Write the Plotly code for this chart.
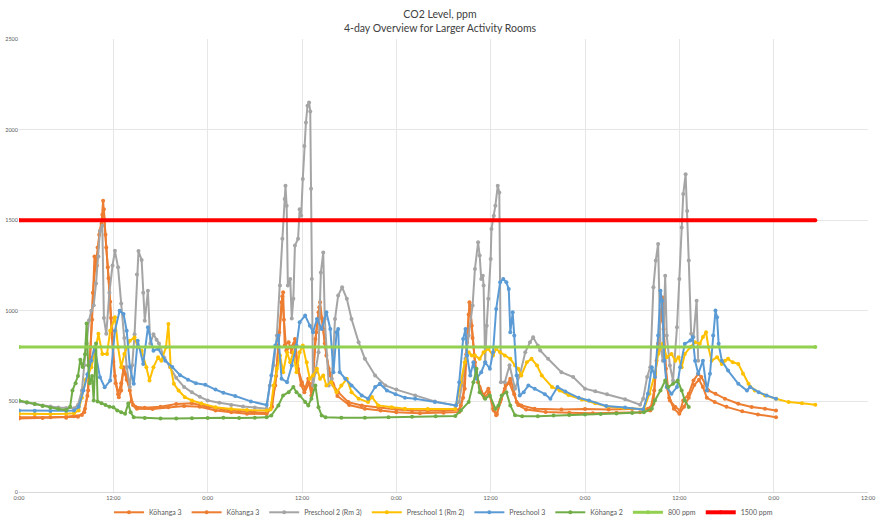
import plotly.graph_objects as go

# ---------------- data (hours since first midnight, CO2 ppm) ----------------
kohanga3a_hours = [0, 2, 4, 6, 7, 8, 8.4, 8.7, 9.0, 9.3, 9.6, 9.9, 10.2, 10.5, 10.7, 10.9, 11.1, 11.4, 11.7,
                   12.0, 12.3, 12.7, 13.0, 13.3, 13.6, 13.9, 14.3, 14.8, 16, 18, 20, 22, 23, 24, 26, 28, 30,
                   31.5, 32, 32.6, 33, 33.4, 33.6, 33.8, 34.3, 34.7, 35.1, 35.5, 36, 36.4, 36.8, 37.2, 37.7,
                   38.1, 38.3, 38.7, 39.1, 39.6, 40, 40.6, 41.9, 43.6, 45.7, 48, 50, 52, 54, 56, 56.2, 56.7,
                   57, 57.3, 57.6, 58, 58.4, 59.1, 59.7, 60.3, 60.7, 61.2, 61.8, 62.5, 62.9, 63.3, 63.9,
                   65.6, 69, 72, 75, 78, 80, 80.7, 81.1, 81.6, 81.9, 82.1, 82.4, 82.8, 83.5, 84.1, 84.5,
                   85.2, 85.8, 86.4, 86.8, 87.3, 87.7, 88.6, 89.8, 91.5, 93.2, 94.9, 96.3]
kohanga3a_ppm = [413, 412, 413, 415, 418, 425, 460, 530, 720, 950, 1300, 1250, 1420, 1480, 1607, 1500, 1350,
                 1180, 960, 720, 600, 523, 560, 689, 650, 615, 500, 470, 465, 470, 485, 490, 480, 470, 455,
                 445, 440, 438, 460, 588, 808, 1047, 1102, 808, 827, 771, 845, 680, 606, 570, 625, 533, 845,
                 992, 1047, 900, 753, 643, 588, 551, 496, 478, 468, 455, 450, 448, 448, 455, 478, 570, 827,
                 1047, 918, 716, 606, 533, 570, 460, 423, 496, 570, 625, 570, 496, 478, 460, 455, 458, 455,
                 458, 460, 487, 725, 946, 1074, 799, 579, 505, 469, 450, 505, 542, 615, 652, 634, 597, 560,
                 542, 515, 487, 469, 460, 450]

kohanga3b_hours = [0, 3, 6, 7.5, 8.3, 8.8, 9.1, 9.4, 9.7, 10.0, 10.3, 10.6, 10.8, 11.0, 11.3, 11.6, 11.9,
                   12.2, 12.6, 13.0, 13.3, 13.7, 14.1, 14.5, 15, 17, 19, 21, 23, 25, 27, 29, 31.5, 32.2,
                   32.7, 33.1, 33.5, 33.7, 34.0, 34.5, 35.0, 35.4, 35.9, 36.3, 36.9, 37.3, 37.8, 38.2, 38.5,
                   38.9, 39.4, 39.9, 40.5, 42, 44, 46, 48, 51, 54, 56, 56.5, 56.9, 57.2, 57.4, 57.7, 58.1,
                   58.6, 59.2, 59.8, 60.4, 60.8, 61.3, 61.9, 62.4, 63.0, 63.5, 64.5, 67, 70, 73, 76, 79,
                   80.3, 80.8, 81.3, 81.7, 82.0, 82.3, 82.7, 83.3, 84.0, 84.6, 85.2, 85.9, 86.5, 87.0, 87.5,
                   88.5, 90, 92, 94, 96.3]
kohanga3b_ppm = [405, 408, 410, 415, 440, 560, 800, 1100, 1240, 1350, 1440, 1530, 1560, 1420, 1240, 1050,
                 850, 640, 540, 600, 680, 620, 560, 480, 460, 458, 468, 475, 470, 450, 440, 432, 430, 470,
                 640, 880, 1080, 950, 780, 800, 820, 700, 590, 550, 600, 560, 880, 1020, 960, 820, 680, 600,
                 530, 480, 460, 450, 440, 435, 437, 442, 520, 760, 980, 1030, 850, 680, 580, 520, 550, 450,
                 430, 510, 590, 600, 540, 480, 455, 442, 438, 435, 438, 440, 450, 560, 820, 1000, 900, 680,
                 520, 460, 432, 470, 520, 590, 620, 580, 520, 496, 470, 445, 428, 412]

preschool2_hours = [0, 1, 2, 3, 4, 5, 6, 7, 7.5, 8.0, 8.3, 8.6, 8.9, 9.2, 9.5, 9.8, 10.1, 10.3, 10.6, 10.8,
                    11.1, 11.5, 11.9, 12.2, 12.6, 13.0, 13.4, 13.7, 14.1, 14.4, 14.7, 15.0, 15.2, 15.6, 15.8,
                    16.0, 16.4, 16.7, 17.1, 17.5, 17.8, 18.5, 19.2, 20, 21, 22, 23, 24, 25.5, 27, 28.5, 30,
                    31.5, 31.9, 32.4, 32.8, 33.2, 33.5, 33.8, 33.9, 34.05, 34.2, 34.5, 34.7, 34.9, 35.1,
                    35.5, 35.7, 35.9, 36.1, 36.3, 36.5, 36.7, 36.9, 37.05, 37.15, 37.25, 37.4, 37.7, 38.1,
                    38.4, 38.7, 38.9, 39.4, 39.8, 40.2, 40.6, 41.1, 41.7, 42.3, 43.2, 44, 45.3, 46.6, 48,
                    50.4, 52.9, 55.5, 56, 56.3, 56.8, 57.2, 57.7, 58, 58.4, 58.6, 58.8, 59.0, 59.1, 59.3,
                    59.5, 59.7, 60, 60.1, 60.4, 60.6, 60.9, 61.1, 61.3, 61.8, 62.4, 63.1, 63.7, 64.4, 65,
                    65.4, 66, 66.3, 67.3, 69, 70.5, 72, 73.3, 74.8, 77.1, 79, 79.4, 79.9, 80.3, 80.7, 81,
                    81.3, 81.6, 81.9, 82.2, 82.4, 82.8, 83.2, 83.7, 84, 84.3, 84.5, 84.8, 85, 85.2, 85.5,
                    85.8, 86.2, 86.4]
preschool2_ppm = [500, 492, 485, 478, 472, 467, 463, 462, 480, 560, 700, 820, 946, 1000, 1030, 1150, 1300,
                  1441, 1470, 960, 873, 1100, 1250, 1331, 1240, 1040, 850, 690, 580, 700, 870, 1200, 1330,
                  1280, 1100, 945, 1110, 820, 870, 840, 820, 740, 690, 630, 580, 550, 525, 505, 492, 480,
                  472, 466, 460, 588, 700, 863, 1139, 1397, 1617, 1690, 1580, 1139, 1176, 957, 1066, 1360,
                  1397, 1561, 1525, 1727, 1910, 2039, 2131, 2150, 2100, 1673, 1176, 588, 661, 771, 1212,
                  1322, 955, 588, 625, 955, 1084, 1130, 1066, 955, 827, 735, 643, 588, 565, 533, 500, 478,
                  496, 588, 735, 863, 1029, 1231, 1378, 1305, 1176, 1194, 1139, 716, 918, 1066, 1286, 1451,
                  1525, 1580, 1690, 1653, 606, 606, 700, 570, 643, 771, 827, 854, 808, 781, 735, 661, 634,
                  570, 556, 540, 512, 482, 515, 634, 689, 1130, 1277, 1369, 799, 725, 1194, 863, 698, 615,
                  909, 1176, 1460, 1644, 1754, 1551, 1277, 873, 855, 1056, 725]

preschool1_hours = [0, 2, 4, 6, 7, 7.6, 8.0, 8.5, 9.2, 9.7, 10.1, 10.6, 11.2, 11.6, 12.2, 12.6, 13, 13.4,
                    14.1, 14.7, 15.1, 15.6, 16.2, 16.6, 17.1, 17.7, 18.1, 18.7, 19.0, 19.3, 19.7, 20.3, 21.1,
                    22, 23.2, 25, 27, 29, 31.5, 32, 32.4, 32.8, 33.2, 33.6, 34.1, 34.5, 34.9, 35.3, 35.7,
                    36.1, 36.6, 37, 37.4, 37.9, 38.3, 38.7, 39.1, 39.7, 40.4, 41, 41.7, 42.3, 43.2, 44.4,
                    44.9, 45.7, 47.4, 49.1, 52, 55.5, 56.2, 56.7, 57.2, 57.6, 58, 58.6, 59.1, 59.7, 60.3,
                    60.7, 61.2, 61.8, 62.5, 63.1, 63.5, 63.9, 64.6, 65.2, 65.9, 66.5, 67.8, 68.8, 69.9, 71.6,
                    73.3, 74.8, 77, 79.5, 80.2, 80.9, 81.3, 81.9, 82.4, 83, 83.5, 83.9, 84.3, 84.7, 85.4,
                    86, 86.6, 87, 87.4, 87.7, 88.1, 88.8, 89.4, 89.8, 90.2, 90.8, 91.5, 92.1, 92.8, 93.6,
                    94.9, 96.3, 97.9, 99.6, 101.3]
preschool1_ppm = [432, 430, 430, 432, 435, 450, 520, 620, 689, 780, 873, 762, 762, 890, 964, 799, 689, 762,
                  835, 853, 800, 780, 689, 615, 689, 743, 725, 799, 927, 689, 597, 560, 523, 505, 489, 468,
                  458, 452, 450, 455, 588, 680, 753, 661, 771, 716, 771, 661, 771, 808, 716, 625, 643, 680,
                  625, 643, 588, 606, 551, 588, 625, 551, 515, 496, 524, 478, 468, 460, 458, 458, 606, 716,
                  771, 753, 753, 735, 771, 790, 753, 790, 771, 753, 735, 698, 680, 643, 716, 735, 698, 643,
                  580, 560, 535, 510, 490, 472, 462, 458, 542, 652, 762, 818, 744, 762, 725, 744, 689, 762,
                  799, 827, 818, 855, 882, 799, 725, 744, 707, 725, 735, 716, 707, 652, 597, 560, 533, 515,
                  496, 490, 481]

preschool3_hours = [0, 2, 4, 6, 7, 7.6, 8.2, 8.7, 9.2, 9.6, 10.3, 10.9, 11.6, 12.2, 12.8, 13.3, 13.7, 14.1,
                    14.6, 15.1, 15.8, 16.4, 17.1, 17.7, 18.6, 19.5, 20.5, 21.5, 22.5, 23.7, 25, 26, 27.5,
                    29.5, 31.5, 32.1, 32.6, 33, 33.4, 34.1, 34.7, 35.3, 35.7, 36.4, 37, 37.4, 37.9, 38.5,
                    39.1, 39.6, 40, 40.4, 40.6, 40.8, 41.5, 42.3, 43.6, 44.4, 45.3, 45.9, 46.8, 47.9, 49.1,
                    50.4, 52.9, 55.6, 56, 56.5, 56.8, 57, 57.4, 57.8, 58.2, 58.8, 59.3, 59.9, 60.3, 60.7,
                    61.2, 61.6, 62, 62.3, 62.5, 62.8, 63, 63.3, 63.7, 64.2, 64.8, 65.6, 66.9, 67.6, 68.5,
                    69.5, 71.2, 72.5, 74.7, 77.1, 79.4, 80, 80.5, 80.9, 81.3, 81.6, 81.8, 82.1, 82.4, 83,
                    83.7, 84.1, 84.7, 85.4, 85.7, 86, 86.4, 87, 87.5, 87.9, 88.3, 88.6, 88.8, 89, 89.4,
                    90.2, 91.5, 92.6, 93, 94.1, 95.1, 96.3]
preschool3_ppm = [450, 448, 447, 448, 450, 470, 560, 650, 725, 799, 633, 578, 615, 890, 1000, 982, 890, 690,
                  597, 835, 707, 909, 780, 790, 725, 690, 645, 620, 600, 592, 565, 548, 530, 500, 480, 643,
                  808, 863, 625, 606, 698, 808, 937, 974, 918, 882, 955, 900, 992, 900, 661, 882, 900, 661,
                  625, 588, 533, 515, 579, 597, 560, 540, 520, 515, 496, 478, 606, 845, 900, 753, 643, 716,
                  625, 661, 716, 680, 771, 1010, 1157, 1176, 1157, 1120, 882, 992, 863, 643, 533, 551, 588,
                  570, 540, 515, 579, 555, 520, 505, 475, 466, 455, 542, 689, 634, 863, 1111, 1056, 725,
                  579, 542, 579, 689, 818, 836, 855, 725, 652, 725, 560, 652, 863, 1001, 964, 818, 725,
                  670, 597, 560, 579, 551, 533, 515]

kohanga2_hours = [0, 1, 2, 3, 4, 5, 6, 6.5, 6.8, 7.2, 7.5, 7.8, 8.1, 8.4, 8.6, 8.8, 9.0, 9.3, 9.5, 9.8,
                  10.0, 10.5, 11, 11.5, 12, 12.5, 13, 13.5, 13.9, 14.2, 14.6, 16, 18, 20, 22, 24, 26, 28,
                  30, 31.5, 32.1, 33, 33.6, 34.3, 34.9, 35.3, 35.7, 36.4, 36.8, 37.2, 37.7, 38.1, 38.5,
                  39, 41, 44, 47, 50, 53, 55.5, 56.2, 57.2, 57.8, 58.2, 58.6, 59.3, 59.9, 60.6, 61, 61.4,
                  62, 62.5, 63.1, 64, 66, 68, 70, 72, 74, 76, 78, 79.5, 80.5, 80.9, 81.6, 82.2, 82.6,
                  83.2, 83.8, 84.3, 84.7, 85.2]
kohanga2_ppm = [505, 495, 485, 475, 465, 458, 452, 470, 560, 600, 640, 730, 690, 760, 930, 700, 600, 640,
                505, 820, 500, 490, 480, 470, 468, 450, 440, 432, 489, 440, 412, 408, 405, 405, 407, 408,
                410, 408, 410, 412, 422, 478, 533, 551, 579, 551, 533, 496, 478, 515, 588, 468, 422, 413,
                410, 410, 412, 415, 418, 420, 450, 496, 606, 680, 551, 515, 533, 460, 478, 533, 551, 478,
                423, 418, 418, 422, 425, 428, 430, 433, 436, 440, 460, 505, 560, 615, 579, 597, 615, 560,
                505, 469]

threshold_800 = 800
threshold_1500 = 1500

tick_hours = [0, 12, 24, 36, 48, 60, 72, 84, 96, 108]
tick_labels = ["0:00", "12:00", "0:00", "12:00", "0:00", "12:00", "0:00", "12:00", "0:00", "12:00"]
y_ticks = [0, 500, 1000, 1500, 2000, 2500]

# ---------------- figure ----------------
FONT = "Lato, 'Open Sans', sans-serif"
series = [
    ("Kōhanga 3", kohanga3a_hours, kohanga3a_ppm, "#ED7D31"),
    ("Kōhanga 3", kohanga3b_hours, kohanga3b_ppm, "#ED7D31"),
    ("Preschool 2 (Rm 3)", preschool2_hours, preschool2_ppm, "#A5A5A5"),
    ("Preschool 1 (Rm 2)", preschool1_hours, preschool1_ppm, "#FFC000"),
    ("Preschool 3", preschool3_hours, preschool3_ppm, "#5B9BD5"),
    ("Kōhanga 2", kohanga2_hours, kohanga2_ppm, "#70AD47"),
]

fig = go.Figure()
for name, xs, ys, col in series:
    fig.add_trace(go.Scatter(
        x=xs, y=ys, name=name, mode="lines+markers",
        line=dict(color=col, width=2),
        marker=dict(color=col, size=4, symbol="circle"),
    ))

all_hours = [h for _, xs, _, _ in series for h in xs]
span = [min(all_hours), max(all_hours)]
fig.add_trace(go.Scatter(
    x=span, y=[threshold_800] * len(span), name="800 ppm", mode="lines+markers",
    line=dict(color="#92D050", width=3), marker=dict(color="#92D050", size=4),
))
fig.add_trace(go.Scatter(
    x=span, y=[threshold_1500] * len(span), name="1500 ppm", mode="lines+markers",
    line=dict(color="#FF0000", width=4), marker=dict(color="#FF0000", size=4),
))

W, H = 880, 522
L, R, T, B = 19, 12, 38.5, 30.3
plot_h = H - T - B
fig.update_layout(
    width=W, height=H, autosize=False,
    margin=dict(l=L, r=R, t=T, b=B, autoexpand=False),
    paper_bgcolor="white", plot_bgcolor="white",
    font=dict(family=FONT, color="#595959", size=7),
    title=dict(
        text="CO2 Level, ppm<br>4-day Overview for Larger Activity Rooms",
        x=0.5, xanchor="center", y=1 - 18 / H, yanchor="middle",
        font=dict(family=FONT, size=10.5, color="#404040"),
    ),
    showlegend=True,
    legend=dict(
        orientation="h", x=0.5, xanchor="center",
        y=-(512 - (H - B)) / plot_h, yanchor="middle",
        font=dict(family=FONT, size=7, color="#595959"),
        bgcolor="rgba(0,0,0,0)", itemwidth=30, tracegroupgap=0,
    ),
)
fig.update_xaxes(
    range=[0, 108], tickmode="array", tickvals=tick_hours, ticktext=tick_labels,
    showgrid=True, gridcolor="#E6E6E6", gridwidth=1,
    showline=True, linecolor="#D9D9D9", linewidth=1,
    zeroline=False, ticks="", tickfont=dict(size=5.5, color="#595959"),
)
fig.update_yaxes(
    range=[0, 2500], tickmode="array", tickvals=y_ticks,
    showgrid=True, gridcolor="#E6E6E6", gridwidth=1,
    zeroline=False, showline=False, ticks="", tickfont=dict(size=5.5, color="#595959"),
)

fig.write_html("out.html", config={"displayModeBar": False},
               post_script="document.body.style.margin='0';document.body.style.overflow='hidden';")
